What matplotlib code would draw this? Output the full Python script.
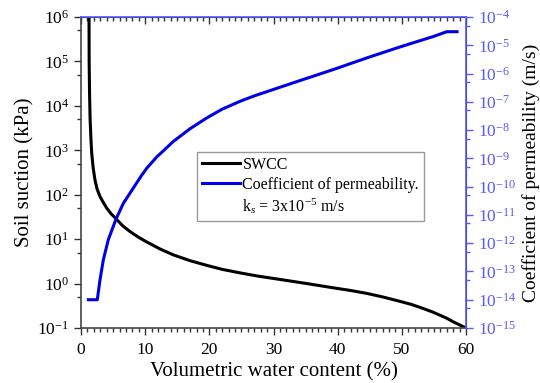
import numpy as np
import matplotlib
matplotlib.use("Agg")
import matplotlib.pyplot as plt
from matplotlib.lines import Line2D
from matplotlib.ticker import LogLocator, LogFormatterMathtext, MultipleLocator, NullFormatter

plt.rcParams['font.family'] = ['Liberation Serif', 'DejaVu Serif']
plt.rcParams['mathtext.fontset'] = 'custom'
plt.rcParams['mathtext.rm'] = 'Liberation Serif'
plt.rcParams['mathtext.it'] = 'Liberation Serif:italic'
plt.rcParams['mathtext.bf'] = 'Liberation Serif:bold'

# soil-water characteristic curve: volumetric water content (%) vs log10 suction (kPa)
swcc_theta = [1.25, 1.27, 1.33, 1.42, 1.55, 1.67, 1.9, 2.18, 2.5, 2.96, 3.5, 4.0,
              4.7, 5.45, 6.5, 7.64, 9.0, 10.2, 12.3, 14.4, 17.0, 19.6, 22.0,
              24.8, 27.5, 30.0, 32.5, 35.2, 39.3, 42.0, 44.5, 47.0, 49.7, 51.5,
              53.3, 54.8, 55.9, 57.0, 58.0, 59.0, 60.0]
swcc_log_suction = [6.0, 5.0, 4.3, 3.7, 3.25, 2.93, 2.6, 2.33, 2.13, 1.96, 1.82,
                    1.70, 1.57, 1.46, 1.30, 1.17, 1.04, 0.94, 0.78, 0.645, 0.515,
                    0.41, 0.32, 0.24, 0.17, 0.115, 0.06, 0.0, -0.095, -0.155, -0.22,
                    -0.30, -0.40, -0.47, -0.56, -0.64, -0.71, -0.78, -0.86, -0.93,
                    -1.0]

# coefficient of permeability: volumetric water content (%) vs log10 k (m/s)
perm_theta = [1.14, 2.54, 2.96, 3.48, 4.25, 5.45, 6.6, 8.15, 9.45, 10.24, 11.8,
              14.4, 17.0, 19.6, 22.0, 24.8, 27.0, 29.5, 34.1, 39.3, 44.5, 49.7,
              52.5, 54.9, 57.0, 58.6]
perm_log_k = [-14.0, -14.0, -13.30, -12.59, -11.88, -11.15, -10.59, -10.05,
              -9.6, -9.35, -8.95, -8.4, -7.95, -7.57, -7.26, -6.98, -6.79,
              -6.6, -6.25, -5.86, -5.45, -5.06, -4.86, -4.69, -4.52, -4.52]

blue = '#0000e6'
axis_blue = '#5a5aff'

fig = plt.figure(figsize=(5.4, 3.83), dpi=100)
ax = fig.add_axes([0.15, 0.1436, 0.713, 0.812])
ax2 = ax.twinx()

ax.plot(swcc_theta, 10.0 ** np.array(swcc_log_suction), color='black', lw=2.2,
        solid_joinstyle='round')
ax2.plot(perm_theta, 10.0 ** np.array(perm_log_k), color=blue, lw=2.2,
         solid_joinstyle='round')

ax.set_xlim(0, 60)
ax.set_yscale('log')
ax.set_ylim(1e-1, 1e6)
ax2.set_yscale('log')
ax2.set_ylim(1e-15, 1e-4)

ax.xaxis.set_major_locator(MultipleLocator(10))
ax.xaxis.set_minor_locator(MultipleLocator(1))
for a, n in ((ax, 10), (ax2, 14)):
    a.yaxis.set_major_locator(LogLocator(base=10, numticks=n))
    a.yaxis.set_major_formatter(LogFormatterMathtext())
    a.yaxis.set_minor_locator(LogLocator(base=10, subs=[5], numticks=n))
    a.yaxis.set_minor_formatter(NullFormatter())

ax.tick_params(axis='both', which='major', direction='out', length=5, width=1,
               labelsize=12.5, colors='#333333', labelcolor='black')
ax.tick_params(axis='both', which='minor', direction='out', length=3, width=1,
               colors='#333333')
ax.tick_params(axis='x', which='major', pad=5)

ax2.tick_params(axis='y', which='major', direction='out', length=5, width=1,
                colors=axis_blue, labelcolor=axis_blue, labelsize=12.5)
ax2.tick_params(axis='y', which='minor', direction='out', length=3, width=1,
                colors=axis_blue)

for s in ('left', 'bottom'):
    ax.spines[s].set_color('#444444')
    ax.spines[s].set_linewidth(1.2)
ax2.spines['right'].set_color(axis_blue)
ax2.spines['top'].set_color(axis_blue)
ax2.spines['right'].set_linewidth(1.2)
ax2.spines['top'].set_linewidth(1.2)
ax2.spines['left'].set_visible(False)
ax2.spines['bottom'].set_visible(False)

# mirrored x ticks along the top edge, pointing inward
ax.tick_params(axis='x', which='both', top=True, labeltop=False)
for t in ax.xaxis.get_major_ticks() + ax.xaxis.get_minor_ticks():
    t.tick2line.set_color(axis_blue)
    t.tick2line.set_marker(3)

ax.set_xlabel('Volumetric water content (%)', fontsize=15, labelpad=3)
ax.set_ylabel('Soil suction (kPa)', fontsize=15, labelpad=2)
ax2.set_ylabel('Coefficient of permeability (m/s)', fontsize=14, labelpad=4)

handles = [Line2D([], [], color='black', lw=2.2),
           Line2D([], [], color=blue, lw=2.2),
           Line2D([], [], color='none')]
labels = ['SWCC', 'Coefficient of permeability.', r'k$_s$ = 3x10$^{-5}$ m/s']
leg = ax.legend(handles, labels, loc='upper left', bbox_to_anchor=(0.301, 0.566),
                borderaxespad=0, fancybox=False, edgecolor='#999999', fontsize=11.5,
                handlelength=2.4, handletextpad=0.15, borderpad=0.3,
                labelspacing=0.25, framealpha=1)
leg.get_frame().set_linewidth(1.0)
leg.set_zorder(5)

fig.savefig('out.png', dpi=100)
